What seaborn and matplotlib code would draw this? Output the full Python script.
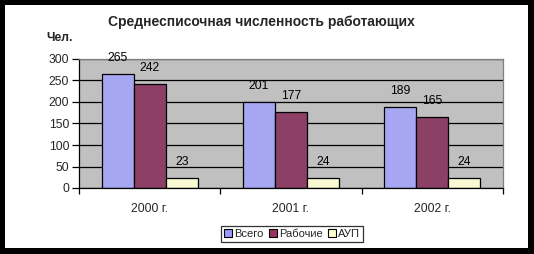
import matplotlib
matplotlib.use("Agg")
import matplotlib.pyplot as plt
import seaborn as sns
import pandas as pd
from matplotlib.patches import Rectangle, Patch

categories = ["2000 г.", "2001 г.", "2002 г."]
series_names = ["Всего", "Рабочие", "АУП"]
vsego = [265, 201, 189]
rabochie = [242, 177, 165]
aup = [23, 24, 24]
colors = ["#9999FF", "#993366", "#FFFFCC"]
y_ticks = [0, 50, 100, 150, 200, 250, 300]

rows = []
for name, vals in zip(series_names, [vsego, rabochie, aup]):
    for c, v in zip(categories, vals):
        rows.append({"year": c, "series": name, "value": v})
df = pd.DataFrame(rows)

sns.set_theme(style="white")
plt.rcParams['font.family'] = ['Liberation Sans', 'DejaVu Sans']

W, H = 534, 254
fig = plt.figure(figsize=(W / 100, H / 100), dpi=100)
fig.patch.set_facecolor("black")
bg = Rectangle((5 / W, 1 - 248 / H), (528 - 5) / W, (248 - 5) / H,
               transform=fig.transFigure, facecolor="white",
               edgecolor="none", zorder=-10)
fig.add_artist(bg)

ax = fig.add_axes([79 / W, 1 - 188 / H, (503 - 79) / W, (188 - 59) / H])
ax.set_zorder(5)
ax.set_facecolor("#C0C0C0")
ax.set_axisbelow(True)
ax.yaxis.grid(True, color="black", linewidth=0.9)

sns.barplot(data=df, x="year", y="value", hue="series", order=categories,
            hue_order=series_names, palette=colors, width=0.68,
            edgecolor="black", linewidth=0.9, ax=ax, legend=False)

for cont in ax.containers:
    ax.bar_label(cont, padding=7, fontsize=8.7, color="black")

ax.set_ylim(0, 300)
ax.set_yticks(y_ticks)
ax.set_xlim(-0.5, 2.5)
ax.set_xlabel("")
ax.set_ylabel("")
ax.tick_params(axis="y", which="major", direction="out", length=5, width=0.9,
               color="black", labelsize=8.7, pad=2, left=True)
ax.tick_params(axis="x", which="major", length=0, labelsize=8.7, pad=11)
ax.set_xticks([-0.5, 0.5, 1.5, 2.5], minor=True)
ax.tick_params(axis="x", which="minor", direction="out", length=4, width=0.9,
               color="black", bottom=True)
for s in ["left", "bottom"]:
    ax.spines[s].set_color("black")
    ax.spines[s].set_linewidth(0.9)
for s in ["top", "right"]:
    ax.spines[s].set_color("#808080")
    ax.spines[s].set_linewidth(0.9)

fig.text(261 / W, 1 - 22 / H, "Среднесписочная численность работающих",
         ha="center", va="center", fontsize=10, fontweight="bold", zorder=6)
fig.text(46 / W, 1 - 38 / H, "Чел.", ha="left", va="center",
         fontsize=8.7, fontweight="bold", zorder=6)

handles = [Patch(facecolor=c, edgecolor="black", linewidth=0.8) for c in colors]
leg = fig.legend(handles, series_names, loc="center", bbox_to_anchor=(292 / W, 1 - 234 / H),
                 ncol=3, frameon=True, fontsize=8, handlelength=0.7, handleheight=0.7,
                 handletextpad=0.2, columnspacing=0.5, borderpad=0.3, fancybox=False)
leg.set_zorder(6)
leg.get_frame().set_edgecolor("black")
leg.get_frame().set_linewidth(0.9)

fig.savefig("out.png", dpi=100, facecolor=fig.get_facecolor())
